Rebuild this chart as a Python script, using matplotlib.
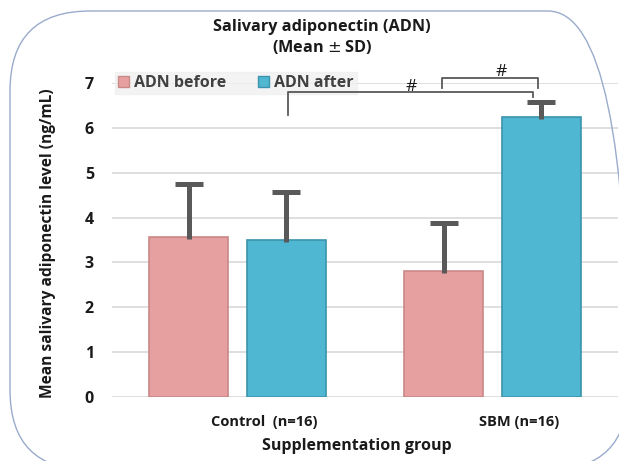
import matplotlib
matplotlib.use("Agg")
import matplotlib.pyplot as plt
from matplotlib.patches import FancyBboxPatch, Patch
from matplotlib.transforms import IdentityTransform
import numpy as np

groups = ["Control  (n=16)", "SBM (n=16)"]
series = ["ADN before", "ADN after"]
before_mean = [3.57, 2.81]
before_sd = [1.18, 1.07]
after_mean = [3.50, 6.24]
after_sd = [1.07, 0.34]
yticks = [0, 1, 2, 3, 4, 5, 6, 7]

plt.rcParams['font.family'] = ['Open Sans', 'DejaVu Sans']
fig = plt.figure(figsize=(6.19, 4.61), dpi=100)

# rounded frame (pixel coordinates)
frame = FancyBboxPatch((10, -9), 618, 459,
                       boxstyle="round,pad=0,rounding_size=80",
                       transform=IdentityTransform(), fill=False,
                       edgecolor="#9aabcb", linewidth=1.0, clip_on=False)
fig.patches.append(frame)

ax = fig.add_axes([112/619, (461-397)/461, 506/619, (397-83)/461])
x = np.arange(len(groups))
w = 0.31
off = 0.192
pink = "#E6A09F"
blue = "#4FB7D1"
ax.bar(x - off, before_mean, w, color=pink, edgecolor="#c98988", linewidth=1.2, zorder=2, label=series[0])
ax.bar(x + off, after_mean, w, color=blue, edgecolor="#3b93ad", linewidth=1.2, zorder=2, label=series[1])
ecol = "#595959"
for xs, m, sd in [(x - off, before_mean, before_sd), (x + off, after_mean, after_sd)]:
    ax.errorbar(xs, m, yerr=[[0.05]*2, sd], fmt='none', ecolor=ecol, elinewidth=3.6, capsize=0, zorder=3)
    ax.plot(xs, np.array(m) + np.array(sd), linestyle='none', marker='_', ms=20, mew=3.6, color=ecol, zorder=3)

ax.set_xlim(-0.492, 1.492)
ax.set_ylim(0, 7)
ax.set_yticks(yticks)
ax.set_yticklabels([str(t) for t in yticks], fontsize=11.5, fontweight='bold', color='#1a1a1a')
ax.set_xticks([])
ax.tick_params(axis='y', length=0, pad=13)
for s in ax.spines.values():
    s.set_visible(False)
ax.grid(axis='y', color='#d9d9d9', linewidth=1.2, zorder=0)
ax.set_axisbelow(True)

# group labels
for xi, g in zip(x, groups):
    ax.text(xi + 0.105, -0.55, g, ha='center', va='center', fontsize=10.5, fontweight='bold', color='#1a1a1a')
fig.text(357/619, 1 - 446/461, "Supplementation group", ha='center', va='center',
         fontsize=11.5, fontweight='bold', color='#1a1a1a')
fig.text(48/619, 1 - 243/461, "Mean salivary adiponectin level (ng/mL)", rotation=90,
         ha='center', va='center', fontsize=11.2, fontweight='bold', color='#1a1a1a')
fig.text(322/619, 1 - 27/461, "Salivary adiponectin (ADN)", ha='center', va='center',
         fontsize=11.7, fontweight='bold', color='#1a1a1a')
fig.text(322/619, 1 - 47/461, "(Mean $\\pm$ SD)", ha='center', va='center',
         fontsize=11.7, fontweight='bold', color='#1a1a1a')

# significance brackets
lc = '#595959'
ax.plot([0.198, 0.198, 1.159, 1.159], [6.29, 6.80, 6.80, 6.69], color=lc, lw=1.3, clip_on=False, zorder=4)
ax.text(0.68, 6.83, "#", ha='center', va='baseline', fontsize=12.5, color='#1a1a1a', clip_on=False)
ax.plot([0.80, 0.80, 1.18, 1.18], [6.89, 7.11, 7.11, 6.89], color=lc, lw=1.3, clip_on=False, zorder=4)
ax.text(1.033, 7.16, "#", ha='center', va='baseline', fontsize=12.5, color='#1a1a1a', clip_on=False)

handles = [Patch(facecolor=pink, edgecolor="#c98988"), Patch(facecolor=blue, edgecolor="#3b93ad")]
leg = ax.legend(handles, series, loc='upper left', bbox_to_anchor=(0.006, 1.036), ncol=2,
                frameon=True, fancybox=False, prop={'weight': 'bold', 'size': 11.5},
                handlelength=0.65, handleheight=0.65, handletextpad=0.35, columnspacing=2.0,
                borderpad=0.2, borderaxespad=0)
leg.get_frame().set_facecolor('#f0f0f0')
leg.get_frame().set_edgecolor('#f0f0f0')
leg.set_zorder(1)
for t in leg.get_texts():
    t.set_color('#404040')

fig.savefig("out.png", dpi=100)
